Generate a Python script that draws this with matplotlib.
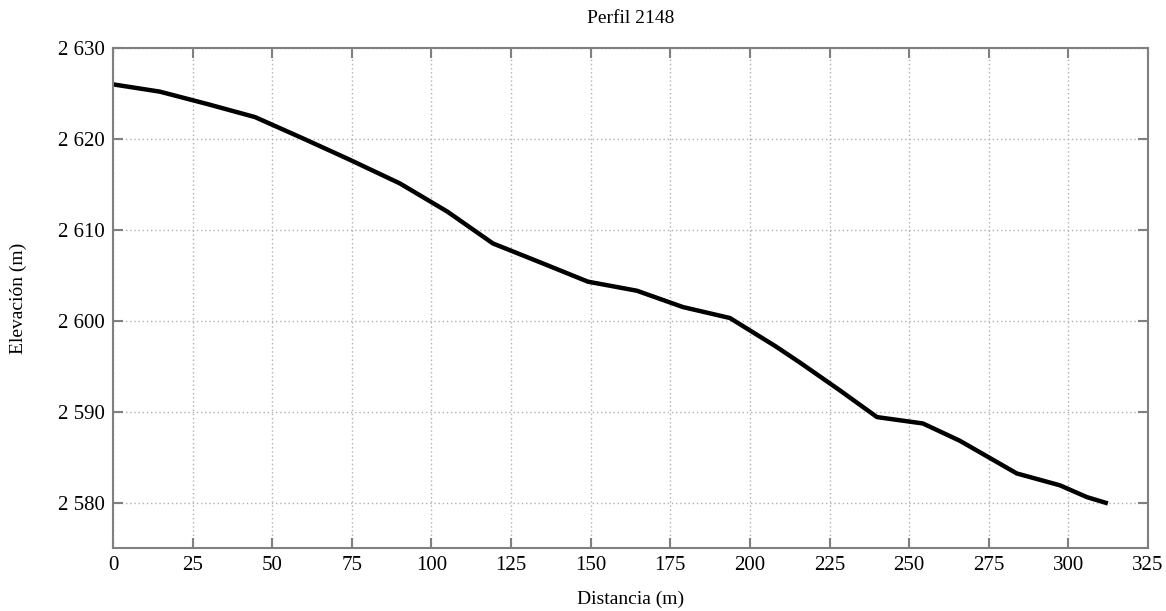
import matplotlib
matplotlib.use("Agg")
import matplotlib.pyplot as plt
from matplotlib.ticker import FuncFormatter, MultipleLocator

distancia = [0, 14.7, 30, 44.6, 60, 74.4, 90.1, 105, 119.3, 135, 149.1, 164.5,
             179, 193.7, 208, 215.7, 228, 239.9, 254.3, 265.9, 283.8, 297.3,
             305.8, 312.4]
elevacion = [2626.0, 2625.2, 2623.8, 2622.4, 2620.0, 2617.7, 2615.1, 2612.0,
             2608.5, 2606.3, 2604.3, 2603.3, 2601.5, 2600.3, 2597.2, 2595.4,
             2592.4, 2589.4, 2588.7, 2586.8, 2583.2, 2581.9, 2580.6, 2579.9]

titulo = "Perfil 2148"
xlabel = "Distancia (m)"
ylabel = "Elevación (m)"

plt.rcParams['font.family'] = ['Liberation Serif', 'DejaVu Serif']

fig = plt.figure(figsize=(11.66, 6.11), dpi=100)
ax = fig.add_axes([113/1166, 1 - 548/611, (1148-113)/1166, (548-48)/611])

ax.plot(distancia, elevacion, color='black', linewidth=3.2, solid_capstyle='butt')

ax.set_xlim(0, 325)
ax.set_ylim(2575, 2630)
ax.xaxis.set_major_locator(MultipleLocator(25))
ax.yaxis.set_major_locator(MultipleLocator(10))
ax.yaxis.set_major_formatter(FuncFormatter(lambda v, p: f"{int(round(v)):,}".replace(",", " ")))

ax.grid(True, color='#b0b0b0', linestyle=(0, (1, 2)), linewidth=1.0)
ax.tick_params(direction='in', top=True, right=True, length=7, width=1.5,
               color='#808080', labelsize=15, pad=6)
for s in ax.spines.values():
    s.set_color('#808080')
    s.set_linewidth(1.5)

ax.set_title(titulo, fontsize=14, pad=18)
ax.set_xlabel(xlabel, fontsize=14, labelpad=11)
ax.set_ylabel(ylabel, fontsize=14, labelpad=22)

fig.savefig("out.png", dpi=100, facecolor='white')
